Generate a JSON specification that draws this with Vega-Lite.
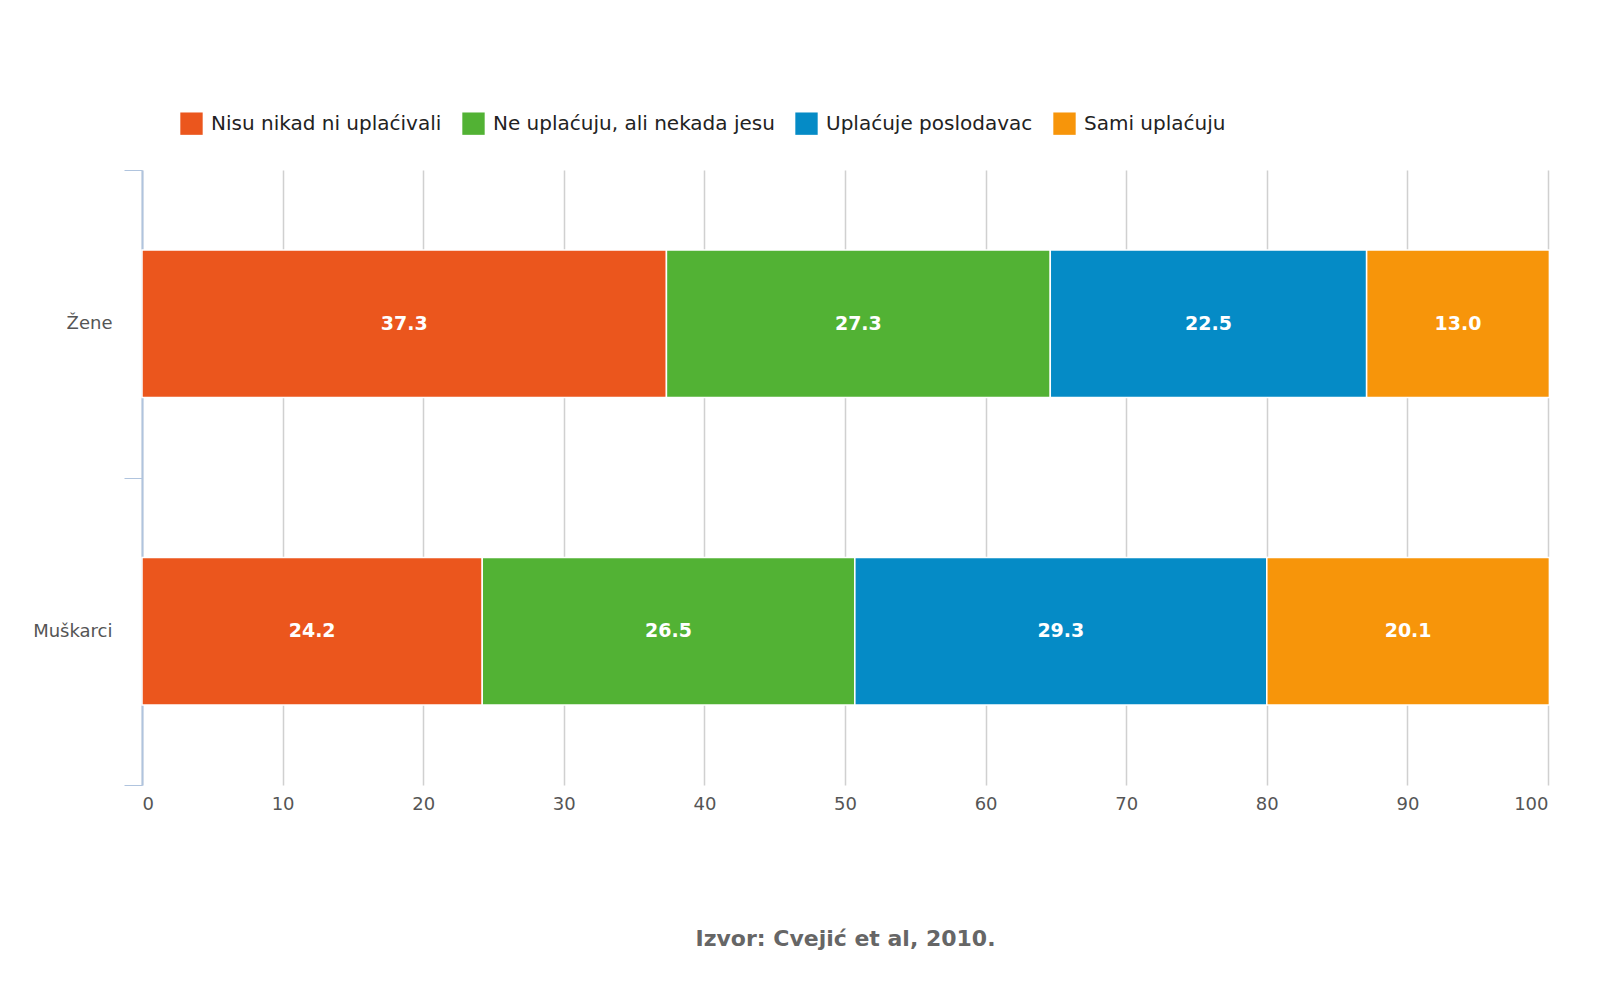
{
  "$schema": "https://vega.github.io/schema/vega-lite/v6.json",
  "autosize": "none",
  "width": 1406,
  "height": 615,
  "padding": {"left": 142, "top": 170, "right": 52, "bottom": 215},
  "background": "white",
  "title": {
    "text": "Uplaćivanje PIO osiguranja kod žena i muškaraca na selu, u %",
    "font": "DejaVu Sans",
    "fontSize": 28,
    "fontWeight": "bold",
    "color": "black",
    "anchor": "middle",
    "offset": 118
  },
  "config": {"font": "DejaVu Sans", "view": {"stroke": null}},
  "data": {
    "values": [
      {"grupa": "Žene", "kategorija": "Nisu nikad ni uplaćivali", "red": 1, "vrednost": 37.3},
      {"grupa": "Žene", "kategorija": "Ne uplaćuju, ali nekada jesu", "red": 2, "vrednost": 27.3},
      {"grupa": "Žene", "kategorija": "Uplaćuje poslodavac", "red": 3, "vrednost": 22.5},
      {"grupa": "Žene", "kategorija": "Sami uplaćuju", "red": 4, "vrednost": 13.0},
      {"grupa": "Muškarci", "kategorija": "Nisu nikad ni uplaćivali", "red": 1, "vrednost": 24.2},
      {"grupa": "Muškarci", "kategorija": "Ne uplaćuju, ali nekada jesu", "red": 2, "vrednost": 26.5},
      {"grupa": "Muškarci", "kategorija": "Uplaćuje poslodavac", "red": 3, "vrednost": 29.3},
      {"grupa": "Muškarci", "kategorija": "Sami uplaćuju", "red": 4, "vrednost": 20.1}
    ]
  },
  "encoding": {
    "y": {
      "field": "grupa", "type": "nominal", "sort": ["Žene", "Muškarci"],
      "scale": {"paddingInner": 0, "paddingOuter": 0},
      "axis": {
        "title": null, "labelFontSize": 18, "labelColor": "#555", "labelPadding": 12,
        "domainColor": "#b0c4de", "domainWidth": 2, "tickColor": "#b0c4de", "tickBand": "extent",
        "tickSize": 18, "grid": false
      }
    },
    "x": {
      "field": "vrednost", "type": "quantitative", "stack": "zero",
      "scale": {"domain": [0, 100]},
      "axis": {
        "title": "Izvor: Cvejić et al, 2010.", "titleFontSize": 22, "titleFontWeight": "bold",
        "titleColor": "#666", "titlePadding": 115,
        "labelFontSize": 18, "labelColor": "#555", "labelPadding": 10, "labelOverlap": false,
        "values": [0, 10, 20, 30, 40, 50, 60, 70, 80, 90, 100],
        "grid": true, "gridColor": "#d0d0d0", "gridWidth": 1.5,
        "domain": false, "ticks": false
      }
    },
    "order": {"field": "red", "type": "quantitative"}
  },
  "layer": [
    {
      "mark": {"type": "bar", "stroke": "white", "strokeWidth": 1.5, "height": {"band": 0.48}},
      "encoding": {
        "color": {
          "field": "kategorija", "type": "nominal",
          "sort": ["Nisu nikad ni uplaćivali", "Ne uplaćuju, ali nekada jesu", "Uplaćuje poslodavac", "Sami uplaćuju"],
          "scale": {
            "domain": ["Nisu nikad ni uplaćivali", "Ne uplaćuju, ali nekada jesu", "Uplaćuje poslodavac", "Sami uplaćuju"],
            "range": ["#eb561d", "#52b234", "#058bc6", "#f7950a"]
          },
          "legend": {
            "title": null, "orient": "none", "legendX": 38, "legendY": -58, "direction": "horizontal",
            "symbolType": "square", "symbolSize": 500, "symbolStrokeWidth": 0, "labelLimit": 0,
            "labelFontSize": 20, "labelColor": "#222", "columnPadding": 20, "labelOffset": 8
          }
        }
      }
    },
    {
      "mark": {"type": "text", "color": "white", "fontWeight": "bold", "fontSize": 19},
      "encoding": {
        "x": {"field": "vrednost", "type": "quantitative", "stack": "zero", "bandPosition": 0.5},
        "text": {"field": "vrednost", "type": "quantitative", "format": ".1f"}
      }
    }
  ]
}
